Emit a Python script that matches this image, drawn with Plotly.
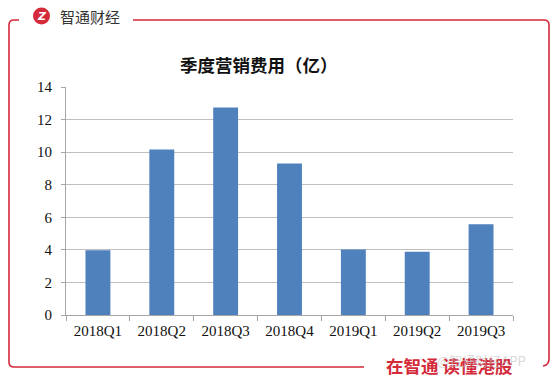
import plotly.graph_objects as go

categories = ["2018Q1", "2018Q2", "2018Q3", "2018Q4", "2019Q1", "2019Q2", "2019Q3"]
values = [3.98, 10.16, 12.74, 9.30, 4.02, 3.88, 5.58]
y_ticks = [0, 2, 4, 6, 8, 10, 12, 14]
title_text = "季度营销费用（亿）"
brand_text = "智通财经"
slogan_text = "在智通 读懂港股"
watermark_text = "@智通财经APP"

W, H = 554, 381
L, R, T, B = 66, 513, 87, 315
RED = "#d42a3a"


def px(x):
    return (x - L) / (R - L)


def py(y):
    return (B - y) / (B - T)


def path(points):
    out = []
    for cmd, *coords in points:
        s = cmd
        for i in range(0, len(coords), 2):
            s += f" {px(coords[i]):.5f},{py(coords[i+1]):.5f}"
        out.append(s)
    return " ".join(out)


fig = go.Figure(go.Bar(
    x=categories, y=values,
    marker=dict(color="#4f81bd", line=dict(color="#4f81bd", width=0)),
    width=0.39,
))

shapes = [
    dict(type="path", xref="paper", yref="paper", line=dict(color=RED, width=1.6),
         path=path([("M", 19, 20), ("L", 14, 20), ("Q", 9, 20, 9, 25), ("L", 9, 362),
                    ("Q", 9, 367, 14, 367), ("L", 364, 367)])),
    dict(type="path", xref="paper", yref="paper", line=dict(color=RED, width=1.6),
         path=path([("M", 133, 20), ("L", 544, 20), ("Q", 549, 20, 549, 25), ("L", 549, 359),
                    ("Q", 549, 365, 543, 366)])),
    dict(type="circle", xref="paper", yref="paper", fillcolor=RED, line=dict(width=0),
         x0=px(33), x1=px(50), y0=py(24.5), y1=py(7.5)),
]

annotations = [
    dict(text="<b>" + title_text + "</b>", x=px(259), y=py(65), xref="paper", yref="paper", showarrow=False,
         font=dict(family="Noto Sans CJK SC", size=17.5, color="#111111"), xanchor="center", yanchor="middle"),
    dict(text="<b><i>Z</i></b>", x=px(41.5), y=py(16), xref="paper", yref="paper", showarrow=False,
         font=dict(family="DejaVu Sans", size=11, color="white"), xanchor="center", yanchor="middle"),
    dict(text=brand_text, x=px(58), y=py(16), xref="paper", yref="paper", showarrow=False,
         font=dict(family="Noto Sans CJK SC", size=15, color="#333333"), xanchor="left", yanchor="middle"),
    dict(text="<b>" + slogan_text + "</b>", x=px(384), y=py(365), xref="paper", yref="paper", showarrow=False,
         font=dict(family="Noto Sans CJK SC", size=17.5, color=RED), xanchor="left", yanchor="middle"),
    dict(text=watermark_text, x=px(435), y=py(360), xref="paper", yref="paper", showarrow=False,
         font=dict(family="Noto Sans CJK SC", size=13, color="rgba(190,190,190,0.6)"), xanchor="left", yanchor="middle"),
]

fig.update_layout(
    width=W, height=H,
    margin=dict(l=L, r=W - R, t=T, b=H - B, pad=0),
    paper_bgcolor="white", plot_bgcolor="white",
    showlegend=False,
    shapes=shapes, annotations=annotations,
    xaxis=dict(showline=True, linecolor="#a6a6a6", linewidth=1, ticks="outside", tickson="boundaries",
               ticklen=5, tickcolor="#a6a6a6", showgrid=False, ticklabelstandoff=2,
               tickfont=dict(family="Liberation Serif", size=15, color="#111111")),
    yaxis=dict(range=[0, 14], tickvals=y_ticks, showline=True, linecolor="#a6a6a6", linewidth=1,
               ticks="outside", ticklen=4, tickcolor="#a6a6a6", showgrid=True, gridcolor="#bfbfbf",
               gridwidth=1, zeroline=False, ticklabelstandoff=6,
               tickfont=dict(family="Liberation Serif", size=15, color="#111111")),
)

fig.write_html("out.html", config={"displayModeBar": False},
               post_script="document.body.style.margin='0';document.body.style.overflow='hidden';")
